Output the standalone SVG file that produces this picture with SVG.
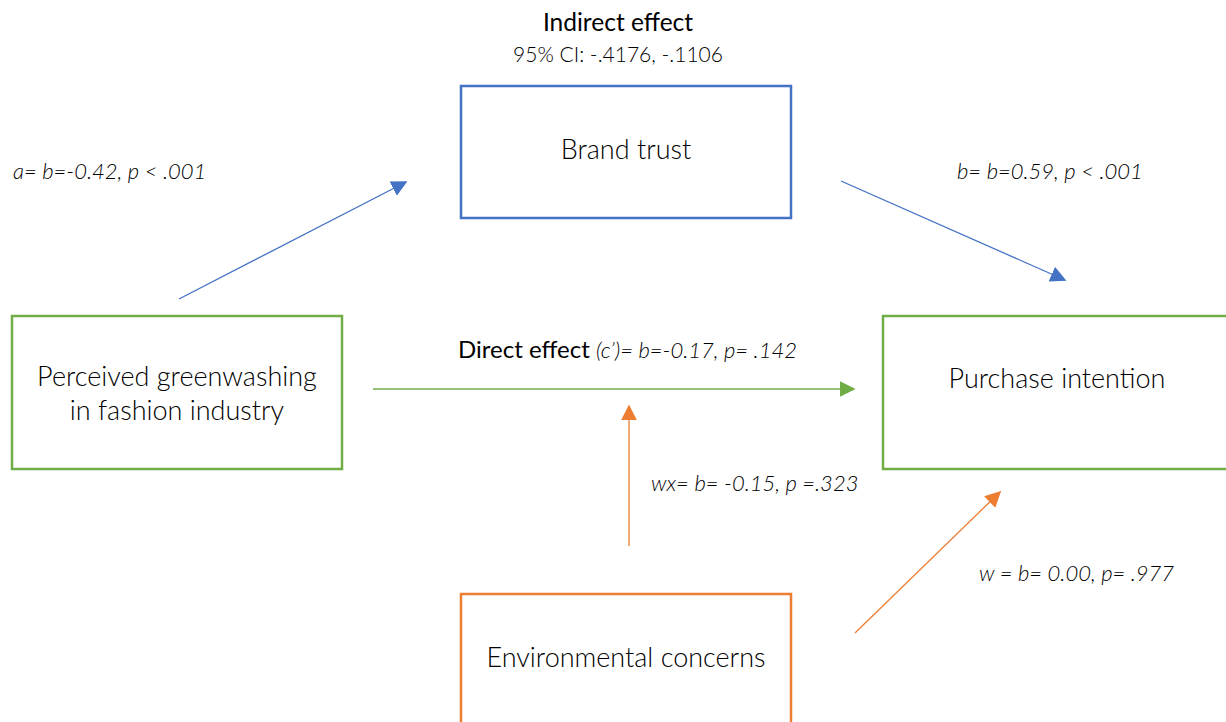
<svg xmlns="http://www.w3.org/2000/svg" width="1226" height="722" viewBox="0 0 1226 722">
<style>
.box{fill:#fff;stroke-width:2.5}
.lbl{font-family:Lato,"Open Sans","Liberation Sans",sans-serif;font-weight:300;fill:#000}
.coef{font-family:Lato,"Open Sans","Liberation Sans",sans-serif;font-weight:300;font-style:italic;font-size:22px;fill:#000}
.node{font-size:27px;text-anchor:middle}
</style>
<defs>
<marker id="ag" viewBox="0 0 10 10" refX="9" refY="5" markerWidth="16" markerHeight="16" orient="auto" markerUnits="userSpaceOnUse"><path d="M0,0 L10,5 L0,10 z" fill="#70AD47"/></marker>
<marker id="ao" viewBox="0 0 10 10" refX="9" refY="5" markerWidth="16" markerHeight="16" orient="auto" markerUnits="userSpaceOnUse"><path d="M0,0 L10,5 L0,10 z" fill="#ED7D31"/></marker>
<marker id="ab2" viewBox="0 0 10 10" refX="9" refY="5" markerWidth="16" markerHeight="16" orient="auto" markerUnits="userSpaceOnUse"><path d="M0,0 L10,5 L0,10 z" fill="#4472C4"/></marker>
</defs>
<g id="header">
<text class="lbl" x="618" y="31" text-anchor="middle" font-size="24.5" style="font-weight:400">Indirect effect</text>
<text class="lbl" x="618" y="62" text-anchor="middle" font-size="21">95% CI: -.4176, -.1106</text>
</g>
<g id="brand-trust">
<rect class="box" x="461" y="86" width="330" height="132" stroke="#4472C4"/>
<text class="lbl node" x="626" y="159">Brand trust</text>
</g>
<g id="perceived-greenwashing">
<rect class="box" x="12" y="316" width="330" height="153" stroke="#70AD47"/>
<text class="lbl node" x="177" y="386">Perceived greenwashing</text>
<text class="lbl node" x="177" y="420">in fashion industry</text>
</g>
<g id="purchase-intention">
<rect class="box" x="883" y="316" width="360" height="153" stroke="#70AD47"/>
<text class="lbl node" x="1057" y="388">Purchase intention</text>
</g>
<g id="environmental-concerns">
<rect class="box" x="461" y="594" width="330" height="140" stroke="#ED7D31"/>
<text class="lbl node" x="626" y="667">Environmental concerns</text>
</g>
<g id="connectors" fill="none" stroke-width="1.3">
<line x1="179" y1="299" x2="406" y2="182" stroke="#4472C4" marker-end="url(#ab2)"/>
<line x1="841" y1="181" x2="1065" y2="280" stroke="#4472C4" marker-end="url(#ab2)"/>
<line x1="373" y1="389" x2="854" y2="389" stroke="#70AD47" marker-end="url(#ag)"/>
<line x1="629" y1="546" x2="629" y2="406" stroke="#ED7D31" marker-end="url(#ao)"/>
<line x1="855" y1="633" x2="1000" y2="492" stroke="#ED7D31" marker-end="url(#ao)"/>
</g>
<g id="labels">
<text class="coef" x="13" y="179">a= b=-0.42, p &lt; .001</text>
<text class="coef" x="957" y="179">b= b=0.59, p &lt; .001</text>
<text x="458" y="358"><tspan class="lbl" font-size="24" style="font-weight:400">Direct effect </tspan><tspan class="coef">(c’)= b=-0.17, p= .142</tspan></text>
<text class="coef" x="651" y="491">wx= b= -0.15, p =.323</text>
<text class="coef" x="979" y="581">w = b= 0.00, p= .977</text>
</g>
</svg>
